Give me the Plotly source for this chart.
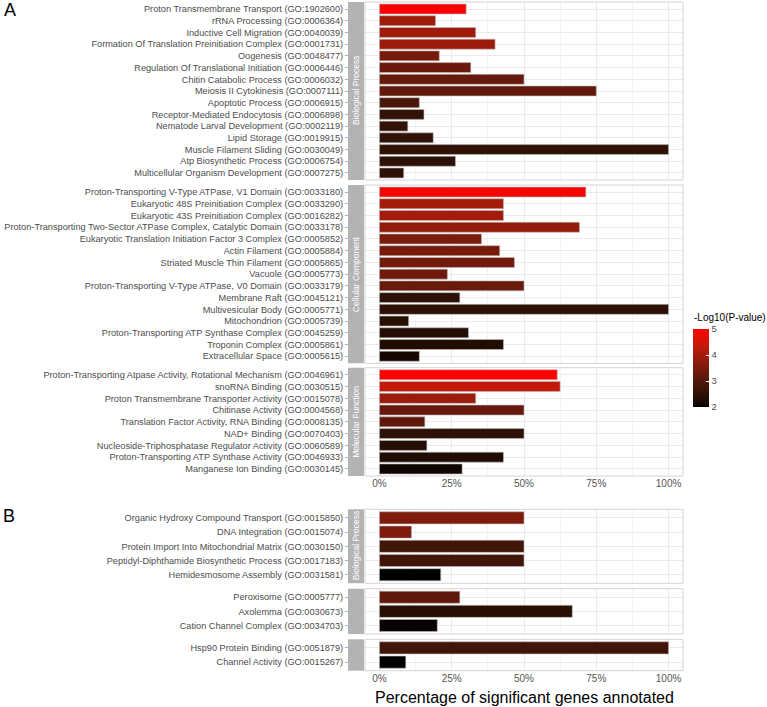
import plotly.graph_objects as go

# ---------------- DATA ----------------
a_bp_terms = [
    "Proton Transmembrane Transport (GO:1902600)",
    "rRNA Processing (GO:0006364)",
    "Inductive Cell Migration (GO:0040039)",
    "Formation Of Translation Preinitiation Complex (GO:0001731)",
    "Oogenesis (GO:0048477)",
    "Regulation Of Translational Initiation (GO:0006446)",
    "Chitin Catabolic Process (GO:0006032)",
    "Meiosis II Cytokinesis (GO:0007111)",
    "Apoptotic Process (GO:0006915)",
    "Receptor-Mediated Endocytosis (GO:0006898)",
    "Nematode Larval Development (GO:0002119)",
    "Lipid Storage (GO:0019915)",
    "Muscle Filament Sliding (GO:0030049)",
    "Atp Biosynthetic Process (GO:0006754)",
    "Multicellular Organism Development (GO:0007275)",
]
a_bp_pct = [30.0, 19.4, 33.3, 40.0, 20.7, 31.6, 50.0, 75.0, 13.8, 15.4, 9.8, 18.6, 100.0, 26.3, 8.4]
a_bp_logp = [5.0, 3.95, 3.95, 3.9, 3.45, 3.3, 3.25, 3.2, 2.9, 2.6, 2.6, 2.55, 2.55, 2.5, 2.5]

a_cc_terms = [
    "Proton-Transporting V-Type ATPase, V1 Domain (GO:0033180)",
    "Eukaryotic 48S Preinitiation Complex (GO:0033290)",
    "Eukaryotic 43S Preinitiation Complex (GO:0016282)",
    "Proton-Transporting Two-Sector ATPase Complex, Catalytic Domain (GO:0033178)",
    "Eukaryotic Translation Initiation Factor 3 Complex (GO:0005852)",
    "Actin Filament (GO:0005884)",
    "Striated Muscle Thin Filament (GO:0005865)",
    "Vacuole (GO:0005773)",
    "Proton-Transporting V-Type ATPase, V0 Domain (GO:0033179)",
    "Membrane Raft (GO:0045121)",
    "Multivesicular Body (GO:0005771)",
    "Mitochondrion (GO:0005739)",
    "Proton-Transporting ATP Synthase Complex (GO:0045259)",
    "Troponin Complex (GO:0005861)",
    "Extracellular Space (GO:0005615)",
]
a_cc_pct = [71.4, 42.9, 42.9, 69.2, 35.3, 41.6, 46.7, 23.5, 50.0, 27.8, 100.0, 10.1, 30.8, 42.9, 13.8]
a_cc_logp = [4.9, 4.0, 4.0, 3.8, 3.5, 3.45, 3.4, 3.35, 3.3, 2.5, 2.5, 2.4, 2.35, 2.3, 2.15]

a_mf_terms = [
    "Proton-Transporting Atpase Activity, Rotational Mechanism (GO:0046961)",
    "snoRNA Binding (GO:0030515)",
    "Proton Transmembrane Transporter Activity (GO:0015078)",
    "Chitinase Activity (GO:0004568)",
    "Translation Factor Activity, RNA Binding (GO:0008135)",
    "NAD+ Binding (GO:0070403)",
    "Nucleoside-Triphosphatase Regulator Activity (GO:0060589)",
    "Proton-Transporting ATP Synthase Activity (GO:0046933)",
    "Manganese Ion Binding (GO:0030145)",
]
a_mf_pct = [61.5, 62.5, 33.3, 50.0, 15.7, 50.0, 16.4, 42.9, 28.6]
a_mf_logp = [5.0, 4.35, 3.9, 3.25, 3.15, 2.5, 2.35, 2.3, 2.1]

b_bp_terms = [
    "Organic Hydroxy Compound Transport (GO:0015850)",
    "DNA Integration (GO:0015074)",
    "Protein Import Into Mitochondrial Matrix (GO:0030150)",
    "Peptidyl-Diphthamide Biosynthetic Process (GO:0017183)",
    "Hemidesmosome Assembly (GO:0031581)",
]
b_bp_pct = [50.0, 11.1, 50.0, 50.0, 21.2]
b_bp_logp = [3.55, 3.55, 2.78, 2.78, 2.0]

b_cc_terms = [
    "Peroxisome (GO:0005777)",
    "Axolemma (GO:0030673)",
    "Cation Channel Complex (GO:0034703)",
]
b_cc_pct = [27.8, 66.7, 20.0]
b_cc_logp = [3.15, 2.4, 2.05]

b_mf_terms = [
    "Hsp90 Protein Binding (GO:0051879)",
    "Channel Activity (GO:0015267)",
]
b_mf_pct = [100.0, 9.1]
b_mf_logp = [2.78, 2.0]

strip_labels = ["Biological Process", "Cellular Component", "Molecular Function"]
x_tickvals = [0, 25, 50, 75, 100]
x_ticktext = ["0%", "25%", "50%", "75%", "100%"]
x_title = "Percentage of significant genes annotated"
legend_title = "-Log10(P-value)"

# ---------------- COLOR SCALE (Lab interpolation black -> red, like ggplot) ----------------
def _lin(c):
    c = c / 255.0
    return c / 12.92 if c <= 0.04045 else ((c + 0.055) / 1.055) ** 2.4

def _gam(c):
    c = max(0.0, min(1.0, c))
    v = 12.92 * c if c <= 0.0031308 else 1.055 * c ** (1 / 2.4) - 0.055
    return max(0, min(255, round(v * 255)))

WN = (0.95047, 1.0, 1.08883)

def rgb2lab(rgb):
    r, g, b = [_lin(v) for v in rgb]
    X = 0.4124 * r + 0.3576 * g + 0.1805 * b
    Y = 0.2126 * r + 0.7152 * g + 0.0722 * b
    Z = 0.0193 * r + 0.1192 * g + 0.9505 * b
    def f(t):
        return t ** (1 / 3) if t > 0.008856 else 7.787 * t + 16 / 116
    fx, fy, fz = f(X / WN[0]), f(Y / WN[1]), f(Z / WN[2])
    return (116 * fy - 16, 500 * (fx - fy), 200 * (fy - fz))

def lab2rgb(lab):
    L, a, bb = lab
    fy = (L + 16) / 116
    fx = fy + a / 500
    fz = fy - bb / 200
    def finv(t):
        return t ** 3 if t > 0.2069 else (t - 16 / 116) / 7.787
    X, Y, Z = WN[0] * finv(fx), WN[1] * finv(fy), WN[2] * finv(fz)
    r = 3.2406 * X - 1.5372 * Y - 0.4986 * Z
    g = -0.9689 * X + 1.8758 * Y + 0.0415 * Z
    b = 0.0557 * X - 0.2040 * Y + 1.0570 * Z
    return (_gam(r), _gam(g), _gam(b))

lab_lo = rgb2lab((0, 0, 0))
lab_hi = rgb2lab((255, 0, 0))
colorscale = []
N = 20
for i in range(N + 1):
    t = i / N
    lab = tuple(lab_lo[k] + t * (lab_hi[k] - lab_lo[k]) for k in range(3))
    r, g, b = lab2rgb(lab)
    colorscale.append([t, f"rgb({r},{g},{b})"])

# ---------------- LAYOUT GEOMETRY ----------------
W, H = 767, 707
FONT = "Liberation Sans, Arial, Helvetica, sans-serif"
X0, X1 = 365, 683          # panel px
SX0, SX1 = 348, 364        # strip px

panels = [
    (a_bp_terms, a_bp_pct, a_bp_logp, (2, 180), strip_labels[0], False),
    (a_cc_terms, a_cc_pct, a_cc_logp, (185, 363.3), strip_labels[1], False),
    (a_mf_terms, a_mf_pct, a_mf_logp, (367.7, 476), strip_labels[2], True),
    (b_bp_terms, b_bp_pct, b_bp_logp, (509.3, 583.3), strip_labels[0], False),
    (b_cc_terms, b_cc_pct, b_cc_logp, (588.7, 634), "", False),
    (b_mf_terms, b_mf_pct, b_mf_logp, (639.3, 670.7), "", True),
]

fig = go.Figure()
shapes = []
annotations = []
layout = {}

for i, (terms, pct, logp, (ptop, pbot), strip, show_x) in enumerate(panels):
    k = i + 1
    xn = "x" if k == 1 else f"x{k}"
    yn = "y" if k == 1 else f"y{k}"
    fig.add_trace(go.Bar(
        x=pct, y=terms, orientation="h",
        xaxis=xn, yaxis=yn,
        width=0.85,
        marker=dict(color=logp, coloraxis="coloraxis",
                    line=dict(color="rgba(190,190,190,0.75)", width=0.8)),
        showlegend=False,
        hovertemplate="%{y}: %{x:.1f}%<extra></extra>",
    ))
    n = len(terms)
    ydom = [1 - pbot / H, 1 - ptop / H]
    layout["xaxis" if k == 1 else f"xaxis{k}"] = dict(
        domain=[X0 / W, X1 / W], anchor=yn, range=[-5, 105],
        tickvals=x_tickvals, ticktext=x_ticktext, showticklabels=show_x,
        ticks="",
        tickfont=dict(family=FONT, size=10, color="#555555"),
        showgrid=True, gridcolor="#ebebeb", gridwidth=1,
        minor=dict(dtick=12.5, tick0=0, showgrid=True, gridcolor="#f3f3f3", gridwidth=0.6, ticks=""),
        zeroline=False, showline=False, fixedrange=True,
    )
    layout["yaxis" if k == 1 else f"yaxis{k}"] = dict(
        domain=ydom, anchor="free", position=SX0 / W,
        type="category", categoryorder="array", categoryarray=terms,
        range=[n - 0.4, -0.6],
        ticks="outside", ticklen=3, tickcolor="#b3b3b3", tickwidth=1,
        tickfont=dict(family=FONT, size=9.2, color="#4d4d4d"),
        showgrid=True, gridcolor="#ebebeb", gridwidth=1,
        zeroline=False, showline=False, fixedrange=True,
    )
    # panel border
    shapes.append(dict(type="rect", xref="paper", yref="paper",
                       x0=X0 / W, x1=X1 / W, y0=ydom[0], y1=ydom[1],
                       line=dict(color="#d4d4d4", width=1), fillcolor="rgba(0,0,0,0)", layer="above"))
    # strip
    shapes.append(dict(type="rect", xref="paper", yref="paper",
                       x0=SX0 / W, x1=SX1 / W, y0=ydom[0], y1=ydom[1],
                       line=dict(width=0), fillcolor="#b3b3b3", layer="above"))
    if strip:
        annotations.append(dict(xref="paper", yref="paper",
                                x=(SX0 + SX1) / 2 / W, y=(ydom[0] + ydom[1]) / 2,
                                text=strip, textangle=-90, showarrow=False,
                                font=dict(family=FONT, size=8.5, color="white"),
                                xanchor="center", yanchor="middle"))

annotations.append(dict(xref="paper", yref="paper", x=2 / W, y=1 - 10 / H, text="A",
                        showarrow=False, xanchor="left", yanchor="middle",
                        font=dict(family=FONT, size=18, color="black")))
annotations.append(dict(xref="paper", yref="paper", x=1 / W, y=1 - 516 / H, text="B",
                        showarrow=False, xanchor="left", yanchor="middle",
                        font=dict(family=FONT, size=18, color="black")))
annotations.append(dict(xref="paper", yref="paper", x=(X0 + X1) / 2 / W, y=1 - 697 / H,
                        text=x_title, showarrow=False, xanchor="center", yanchor="middle",
                        borderpad=0,
                        font=dict(family=FONT, size=16, color="black")))
annotations.append(dict(xref="paper", yref="paper", x=692 / W, y=1 - 317 / H,
                        text=legend_title, showarrow=False, xanchor="left", yanchor="middle",
                        font=dict(family=FONT, size=10, color="black")))

fig.update_layout(
    width=W, height=H,
    margin=dict(l=0, r=0, t=0, b=0),
    paper_bgcolor="white", plot_bgcolor="white",
    font=dict(family=FONT),
    shapes=shapes, annotations=annotations,
    coloraxis=dict(
        colorscale=colorscale, cmin=2, cmax=5,
        colorbar=dict(
            x=693 / W, xanchor="left", xpad=0,
            y=1 - 368 / H, yanchor="middle", ypad=0,
            len=78, lenmode="pixels", thickness=16, thicknessmode="pixels",
            outlinewidth=0,
            tickvals=[2, 3, 4, 5], ticks="inside", ticklen=3, tickcolor="white",
            tickfont=dict(family=FONT, size=9.5, color="#4d4d4d"),
            title=dict(text=""),
        ),
    ),
    **layout,
)

fig.write_html(
    "out.html",
    config={"displayModeBar": False},
    post_script="document.body.style.margin='0';document.body.style.padding='0';"
                "document.documentElement.style.overflow='hidden';",
)
